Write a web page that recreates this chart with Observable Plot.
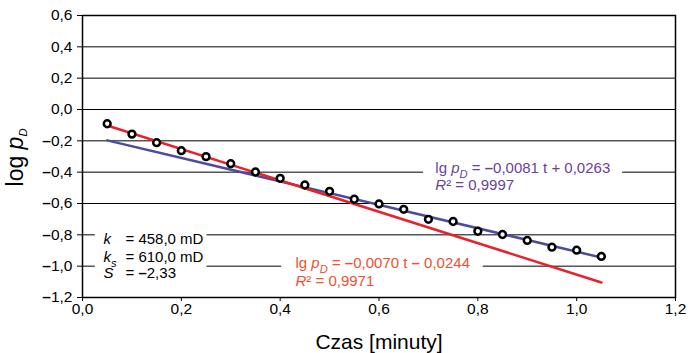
<!DOCTYPE html>
<html><head><meta charset="utf-8">
<script src="https://cdn.jsdelivr.net/npm/d3@7"></script>
<script src="https://cdn.jsdelivr.net/npm/@observablehq/plot@0.6"></script>
<style>
body{margin:0;background:#fff;}
#chart svg{display:block;}
</style></head><body><div id="chart"></div>
<script>
// ---- data ----
const time = [0.05,0.10,0.15,0.20,0.25,0.30,0.35,0.40,0.45,0.50,0.55,0.60,0.65,0.70,0.75,0.80,0.85,0.90,0.95,1.00,1.05];
const logPD = [-0.091,-0.157,-0.212,-0.263,-0.301,-0.346,-0.399,-0.439,-0.482,-0.522,-0.573,-0.603,-0.637,-0.701,-0.715,-0.777,-0.798,-0.836,-0.879,-0.898,-0.938];
const redFitTime = [0.05, 1.05];
const redFitLog = [-0.102, -1.104];
const blueFitTime = [0.05, 1.05];
const blueFitLog = [-0.197, -0.945];
const xTicks = [0, 0.2, 0.4, 0.6, 0.8, 1.0, 1.2];
const yTicks = [-1.2, -1.0, -0.8, -0.6, -0.4, -0.2, 0, 0.2, 0.4, 0.6];
const blueEq = ["lg <i>p</i><sub><i>D</i></sub> = <b>–</b>0,0081 t + 0,0263", "<i>R</i>² = 0,9997"];
const redEq = ["lg <i>p</i><sub><i>D</i></sub> = <b>–</b>0,0070 t <b>–</b> 0,0244", "<i>R</i>² = 0,9971"];
const paramNames = ["<i>k</i>", "<i>k</i><sub><i>s</i></sub>", "<i>S</i>"];
const paramValues = ["= 458,0 mD", "= 610,0 mD", "= <b>–</b>2,33"];
const xLabel = "Czas [minuty]";
const yLabel = "log <i>p</i><sub><i>D</i></sub>";

// ---- layout (data units) ----
const blueEqPos = {x: 0.714, y: [-0.406, -0.516]};
const redEqPos = {x: 0.431, y: [-1.013, -1.127]};
const paramPos = {xName: 0.0425, xValue: 0.087, y: [-0.860, -0.973, -1.076]};
const boxes = [
  {x1: 0.69, x2: 1.093, y1: -0.31, y2: -0.545},
  {x1: 0.403, x2: 0.811, y1: -0.924, y2: -1.155},
  {x1: 0.026, x2: 0.252, y1: -0.755, y2: -1.11}
];

const points = time.map((t, i) => ({t, v: logPD[i]}));
const redFit = redFitTime.map((t, i) => ({t, v: redFitLog[i]}));
const blueFit = blueFitTime.map((t, i) => ({t, v: blueFitLog[i]}));
const blueLines = blueEq.map((s, i) => ({s, x: blueEqPos.x, y: blueEqPos.y[i]}));
const redLines = redEq.map((s, i) => ({s, x: redEqPos.x, y: redEqPos.y[i]}));
const nameLines = paramNames.map((s, i) => ({s, x: paramPos.xName, y: paramPos.y[i]}));
const valueLines = paramValues.map((s, i) => ({s, x: paramPos.xValue, y: paramPos.y[i]}));

const fmt = d => (d < 0 ? "<b>–</b>" : "") + Math.abs(d).toFixed(1).replace(".", ",");

const chart = Plot.plot({
  width: 688, height: 353,
  marginLeft: 82, marginRight: 13, marginTop: 15, marginBottom: 56,
  x: {domain: [0, 1.2], ticks: xTicks, tickFormat: fmt, tickSize: 4, tickPadding: 1, label: null},
  y: {domain: [-1.2, 0.6], ticks: yTicks, tickFormat: fmt, tickSize: 5, tickPadding: 5, label: null},
  style: {fontFamily: "'Liberation Sans', Arial, sans-serif", fontSize: "15.5px", color: "black", background: "white"},
  marks: [
    Plot.ruleY(yTicks.filter(v => v > -1.2 && v < 0.6), {stroke: "black", strokeWidth: 1}),
    Plot.rect(boxes, {x1: "x1", x2: "x2", y1: "y1", y2: "y2", fill: "white"}),
    Plot.frame({stroke: "black", strokeWidth: 1.5}),
    Plot.line(blueFit, {x: "t", y: "v", stroke: "#4b4c9e", strokeWidth: 2.5}),
    Plot.line(redFit, {x: "t", y: "v", stroke: "#e8212a", strokeWidth: 2.5}),
    Plot.dot(points, {x: "t", y: "v", r: 3.4, stroke: "black", strokeWidth: 2.5, fill: "white"}),
    Plot.text(blueLines, {x: "x", y: "y", text: "s", textAnchor: "start", lineAnchor: "bottom", fill: "#6a3f9b", fontSize: 15, ariaLabel: "rich15"}),
    Plot.text(redLines, {x: "x", y: "y", text: "s", textAnchor: "start", lineAnchor: "bottom", fill: "#f0502f", fontSize: 15, ariaLabel: "rich15"}),
    Plot.text(nameLines, {x: "x", y: "y", text: "s", textAnchor: "start", lineAnchor: "bottom", fill: "black", fontSize: 15, ariaLabel: "rich15"}),
    Plot.text(valueLines, {x: "x", y: "y", text: "s", textAnchor: "start", lineAnchor: "bottom", fill: "black", fontSize: 15, ariaLabel: "rich15"}),
    Plot.text([xLabel], {frameAnchor: "bottom", text: d => d, dy: 51, lineAnchor: "bottom", fontSize: 21, fill: "black"}),
    Plot.text([yLabel], {frameAnchor: "left", text: d => d, rotate: -90, dx: -60, dy: 1, textAnchor: "middle", lineAnchor: "bottom", fontSize: 23, fill: "black", ariaLabel: "rich23"})
  ]
});

function rich(textEl, fontSize) {
  const src = textEl.textContent;
  if (!/[<]/.test(src)) return;
  while (textEl.firstChild) textEl.removeChild(textEl.firstChild);
  const parts = src.split(/(<\/?(?:i|b|sub|sup)>)/);
  const st = {i: false, b: false, sub: false, sup: false};
  let shift = 0;
  for (const p of parts) {
    if (!p) continue;
    const m = p.match(/^<(\/?)(i|b|sub|sup)>$/);
    if (m) { st[m[2]] = !m[1]; continue; }
    const ts = document.createElementNS("http://www.w3.org/2000/svg", "tspan");
    const target = st.sub ? fontSize * 0.3 : st.sup ? -fontSize * 0.4 : 0;
    if (target !== shift) { ts.setAttribute("dy", target - shift); shift = target; }
    if (st.sub || st.sup) ts.setAttribute("font-size", fontSize * 0.72);
    if (st.i) ts.setAttribute("font-style", "italic");
    if (st.b) ts.setAttribute("font-weight", "bold");
    ts.textContent = p;
    textEl.appendChild(ts);
  }
}
chart.querySelectorAll('g[aria-label="rich15"] text, text[aria-label="rich15"]').forEach(t => rich(t, 15));
chart.querySelectorAll('g[aria-label="rich23"] text, text[aria-label="rich23"]').forEach(t => rich(t, 23));
chart.querySelectorAll('text').forEach(t => { if (/<\/?(i|b|sub|sup)>/.test(t.textContent)) rich(t, 15.5); });
document.getElementById("chart").appendChild(chart);
</script></body></html>
